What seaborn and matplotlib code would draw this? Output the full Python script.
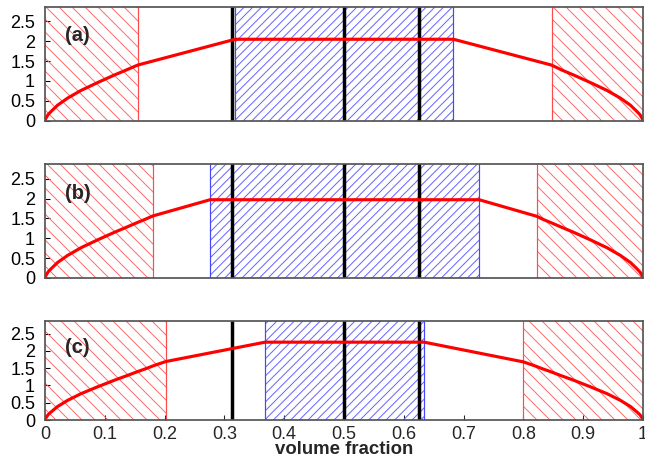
import matplotlib
matplotlib.use("Agg")
import matplotlib.pyplot as plt
import seaborn as sns

# Red curve samples for each panel (volume fraction, value)
a_x = [0.0, 0.0005, 0.0015, 0.005, 0.010, 0.021, 0.038, 0.060, 0.088, 0.116, 0.135, 0.155,
       0.318, 0.683,
       0.847, 0.865, 0.884, 0.912, 0.940, 0.962, 0.979, 0.990, 0.995, 0.9985, 0.9995, 1.0]
a_y = [0.0, 0.03, 0.06, 0.15, 0.23, 0.39, 0.57, 0.76, 0.96, 1.15, 1.27, 1.40,
       2.05, 2.05,
       1.40, 1.27, 1.15, 0.96, 0.76, 0.57, 0.39, 0.23, 0.15, 0.06, 0.03, 0.0]

b_x = [0.0, 0.0005, 0.0015, 0.005, 0.010, 0.021, 0.038, 0.060, 0.088, 0.116, 0.135, 0.155,
       0.168, 0.180,
       0.276, 0.726,
       0.823, 0.832, 0.845, 0.865, 0.884, 0.912, 0.940, 0.962, 0.979, 0.990, 0.995, 0.9985,
       0.9995, 1.0]
b_y = [0.0, 0.03, 0.06, 0.15, 0.23, 0.39, 0.57, 0.76, 0.96, 1.15, 1.27, 1.40,
       1.48, 1.56,
       1.97, 1.97,
       1.55, 1.48, 1.40, 1.27, 1.15, 0.96, 0.76, 0.57, 0.39, 0.23, 0.15, 0.06,
       0.03, 0.0]

c_x = [0.0, 0.0005, 0.0015, 0.005, 0.010, 0.021, 0.038, 0.060, 0.088, 0.116, 0.135, 0.155,
       0.168, 0.180, 0.190, 0.202,
       0.368, 0.634,
       0.800, 0.810, 0.820, 0.832, 0.845, 0.865, 0.884, 0.912, 0.940, 0.962, 0.979, 0.990,
       0.995, 0.9985, 0.9995, 1.0]
c_y = [0.0, 0.03, 0.06, 0.15, 0.23, 0.39, 0.57, 0.76, 0.96, 1.15, 1.27, 1.40,
       1.48, 1.56, 1.62, 1.69,
       2.25, 2.25,
       1.68, 1.62, 1.56, 1.48, 1.40, 1.27, 1.15, 0.96, 0.76, 0.57, 0.39, 0.23,
       0.15, 0.06, 0.03, 0.0]

# Red hatched (coexistence) and blue hatched (plateau) intervals per panel
a_red = [(0.0, 0.155), (0.847, 1.0)]
a_blue = [(0.318, 0.683)]
b_red = [(0.0, 0.180), (0.823, 1.0)]
b_blue = [(0.276, 0.726)]
c_red = [(0.0, 0.202), (0.800, 1.0)]
c_blue = [(0.368, 0.634)]

# Reference volume fractions marked by black vertical lines
black_lines = [0.313, 0.500, 0.625]

panel_labels = ["(a)", "(b)", "(c)"]
y_ticks = [0, 0.5, 1, 1.5, 2, 2.5]
y_ticklabels = ["0", "0.5", "1", "1.5", "2", "2.5"]
x_ticks = [0, 0.1, 0.2, 0.3, 0.4, 0.5, 0.6, 0.7, 0.8, 0.9, 1.0]
x_ticklabels = ["0", "0.1", "0.2", "0.3", "0.4", "0.5", "0.6", "0.7", "0.8", "0.9", "1"]
x_label = "volume fraction"

DPI = 156
sns.set_theme(style="white")
plt.rcParams["font.family"] = ["Liberation Sans", "DejaVu Sans"]
plt.rcParams["hatch.linewidth"] = 0.45

fig = plt.figure(figsize=(645 / DPI, 464 / DPI), dpi=DPI)
fig.patch.set_facecolor("white")

positions = [
    [0.0698, 0.7399, 0.9271, 0.2457],
    [0.0698, 0.4009, 0.9271, 0.2457],
    [0.0698, 0.0948, 0.9271, 0.2140],
]
panels = [
    (a_x, a_y, a_red, a_blue),
    (b_x, b_y, b_red, b_blue),
    (c_x, c_y, c_red, c_blue),
]

RED_HATCH = "#ff6a6a"
RED_EDGE = "#ff4a4a"
BLUE_HATCH = "#6464ff"
BLUE_EDGE = "#4646ff"

for i, (pos, (xs, ys, reds, blues)) in enumerate(zip(positions, panels)):
    ax = fig.add_axes(pos)
    ax.set_facecolor("white")

    for x0, x1 in reds:
        ax.axvspan(x0, x1, facecolor="none", edgecolor=RED_HATCH, hatch="\\" * 4,
                   linewidth=0, zorder=1)
        for xe in (x0, x1):
            if 0.0 < xe < 1.0:
                ax.axvline(xe, color=RED_EDGE, lw=0.55, zorder=1.5)
    for x0, x1 in blues:
        ax.axvspan(x0, x1, facecolor="none", edgecolor=BLUE_HATCH, hatch="/" * 6,
                   linewidth=0, zorder=1)
        for xe in (x0, x1):
            ax.axvline(xe, color=BLUE_EDGE, lw=0.55, zorder=1.5)

    for xv in black_lines:
        ax.axvline(xv, color="black", lw=1.6, zorder=2)

    sns.lineplot(x=xs, y=ys, ax=ax, color="#ff0000", lw=1.45, zorder=3,
                 sort=False, estimator=None)

    ax.set_xlim(0, 1)
    ax.set_ylim(0, 2.87)
    ax.set_yticks(y_ticks)
    ax.set_yticklabels(y_ticklabels)
    ax.tick_params(axis="y", direction="in", length=2.5, width=0.5, pad=4.6,
                   labelsize=8.3, colors="black", left=True)
    if i == 2:
        ax.set_xticks(x_ticks)
        ax.set_xticklabels(x_ticklabels)
        ax.tick_params(axis="x", direction="in", length=2.5, width=0.5, pad=2.6,
                       labelsize=8.3, bottom=True)
    else:
        ax.set_xticks([])
    ax.set_xlabel("")
    ax.set_ylabel("")

    for side in ax.spines.values():
        side.set_color("#555555")
        side.set_linewidth(0.8)
        side.set_zorder(4)

    ax.text(0.033, 0.745 if i < 2 else 0.73, panel_labels[i], transform=ax.transAxes,
            fontsize=9.3, fontweight="bold", ha="left", va="center", zorder=5)

fig.text(344 / 645, 1 - 450 / 464, x_label, fontsize=8.6, fontweight="bold",
         ha="center", va="center")

fig.savefig("out.png", dpi=DPI, facecolor="white")
